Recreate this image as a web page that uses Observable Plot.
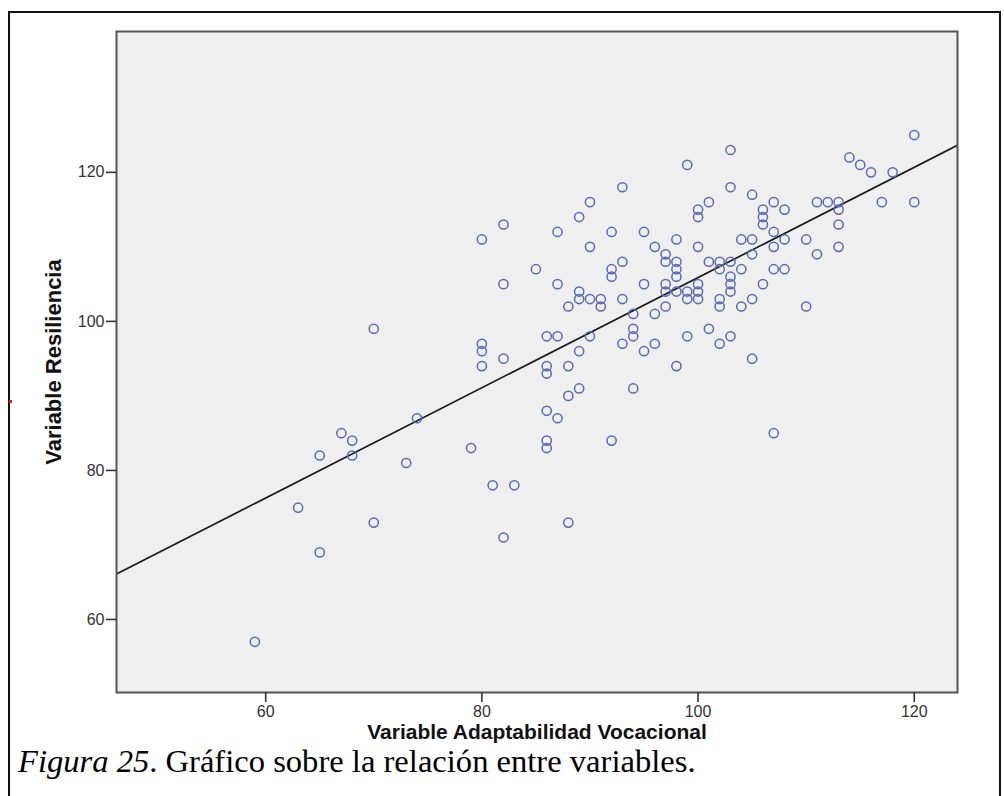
<!DOCTYPE html>
<html>
<head>
<meta charset="utf-8">
<script src="https://cdn.jsdelivr.net/npm/d3@7"></script>
<script src="https://cdn.jsdelivr.net/npm/@observablehq/plot@0.6"></script>
<style>
  html, body { margin: 0; padding: 0; background: #fff; }
  #wrap { position: relative; width: 1004px; height: 796px; overflow: hidden; }
  #border { position: absolute; left: 8px; top: 11px; width: 993px; height: 800px; border: 2px solid #111; box-sizing: border-box; }
  #redmark { position: absolute; left: 9px; top: 400px; width: 3px; height: 3px; background: #d22; }
  #chart { position: absolute; left: 0; top: 0; }
  #caption { position: absolute; left: 18px; top: 745px; line-height: 1; font-family: "Liberation Serif", "Times New Roman", serif; font-size: 32.6px; color: #000; white-space: nowrap; }
</style>
</head>
<body>
<div id="wrap">
  <div id="border"></div>
  <div id="redmark"></div>
  <div id="chart"></div>
  <div id="caption"><i>Figura 25</i>. Gráfico sobre la relación entre variables.</div>
</div>
<script>
// Variable Adaptabilidad Vocacional (x) and Variable Resiliencia (y), one entry per case
const adaptabilidad = [
  70, 74, 67, 68, 65, 68, 73, 63, 70, 65, 59,
  93, 90, 89, 82, 80, 87, 92, 95, 90, 85, 92, 92, 93, 95, 82, 87, 89, 89, 90, 91, 91, 88, 93, 94,
  86, 87, 90, 94, 94, 93, 95, 80, 80, 80, 82, 89, 86, 86, 88, 94, 89, 88,
  120, 103, 99, 114, 115, 116, 118, 103, 105, 101, 100, 100, 106, 106, 106, 107, 108, 111, 112, 113,
  113, 113, 117, 120, 107, 96, 98, 100, 104, 105, 107, 108, 110, 111, 113, 97, 97, 98, 98, 98,
  101, 102, 103, 102, 104, 105, 107, 108, 103, 103, 103, 106, 110, 97, 97, 98, 99, 99, 100, 100,
  100, 102, 102, 104, 105, 97, 96, 99, 101, 102, 103, 96, 98, 105, 107,
  86, 87, 86, 86, 92, 79, 81, 83, 82, 88
];
const resiliencia = [
  99, 87, 85, 84, 82, 82, 81, 75, 73, 69, 57,
  118, 116, 114, 113, 111, 112, 112, 112, 110, 107, 107, 106, 108, 105, 105, 105, 104, 103, 103, 103, 102, 102, 103, 101,
  98, 98, 98, 99, 98, 97, 96, 97, 96, 94, 95, 96, 94, 93, 94, 91, 91, 90,
  125, 123, 121, 122, 121, 120, 120, 118, 117, 116, 115, 114, 115, 114, 113, 116, 115, 116, 116, 116,
  115, 113, 116, 116, 112, 110, 111, 110, 111, 111, 110, 111, 111, 109, 110, 109, 108, 108, 107, 106,
  108, 108, 108, 107, 107, 109, 107, 107, 106, 105, 104, 105, 102, 105, 104, 104, 104, 103, 105, 104,
  103, 103, 102, 102, 103, 102, 101, 98, 99, 97, 98, 97, 94, 95, 85,
  88, 87, 84, 83, 84, 83, 78, 78, 71, 73
];
const xTicks = [60, 80, 100, 120];
const yTicks = [60, 80, 100, 120];
const xLabel = "Variable Adaptabilidad Vocacional";
const yLabel = "Variable Resiliencia";

const points = adaptabilidad.map((x, i) => ({x, y: resiliencia[i]}));

// least-squares fit line (drawn across the full x domain, as SPSS does)
const xDomain = [46.2, 124.0];
const yDomain = [50.2, 138.9];
const mx = d3.mean(adaptabilidad), my = d3.mean(resiliencia);
const slope = d3.sum(points, d => (d.x - mx) * (d.y - my)) / d3.sum(points, d => (d.x - mx) ** 2);
const intercept = my - slope * mx;
const fit = xDomain.map(x => ({x, y: intercept + slope * x}));

const chart = Plot.plot({
  width: 1004,
  height: 745,
  marginLeft: 116,
  marginRight: 47,
  marginTop: 31,
  marginBottom: 53,
  style: { background: "transparent", fontFamily: "Liberation Sans, Arial, sans-serif", fontSize: "16px", color: "#333" },
  x: { domain: xDomain, ticks: xTicks, label: null },
  y: { domain: yDomain, ticks: yTicks, label: null },
  marks: [
    Plot.frame({ fill: "#efefef", stroke: null }),
    Plot.line(fit, { x: "x", y: "y", stroke: "#1a1a1a", strokeWidth: 1.7, clip: true }),
    Plot.dot(points, { x: "x", y: "y", r: 4.6, stroke: "#5a6ab4", strokeWidth: 1.5, fill: "none" }),
    Plot.frame({ stroke: "#555", strokeWidth: 2 }),
    Plot.axisX({ ticks: xTicks, tickSize: 10, tickPadding: 3, stroke: "#333", strokeWidth: 1.6, fill: "#333", fontSize: 16, label: null }),
    Plot.axisY({ ticks: yTicks, tickSize: 10, tickPadding: 2, stroke: "#333", strokeWidth: 1.6, fill: "#333", fontSize: 16, label: null }),
    Plot.text([xLabel], { frameAnchor: "bottom", dy: 40, text: d => d, fontSize: 21, fontWeight: "bold", fill: "#111", lineAnchor: "middle" }),
    Plot.text([yLabel], { frameAnchor: "left", dx: -63, rotate: -90, text: d => d, textAnchor: "middle", fontSize: 22, fontWeight: "bold", fill: "#111", lineAnchor: "middle" })
  ]
});
document.getElementById("chart").appendChild(chart);
</script>
</body>
</html>
